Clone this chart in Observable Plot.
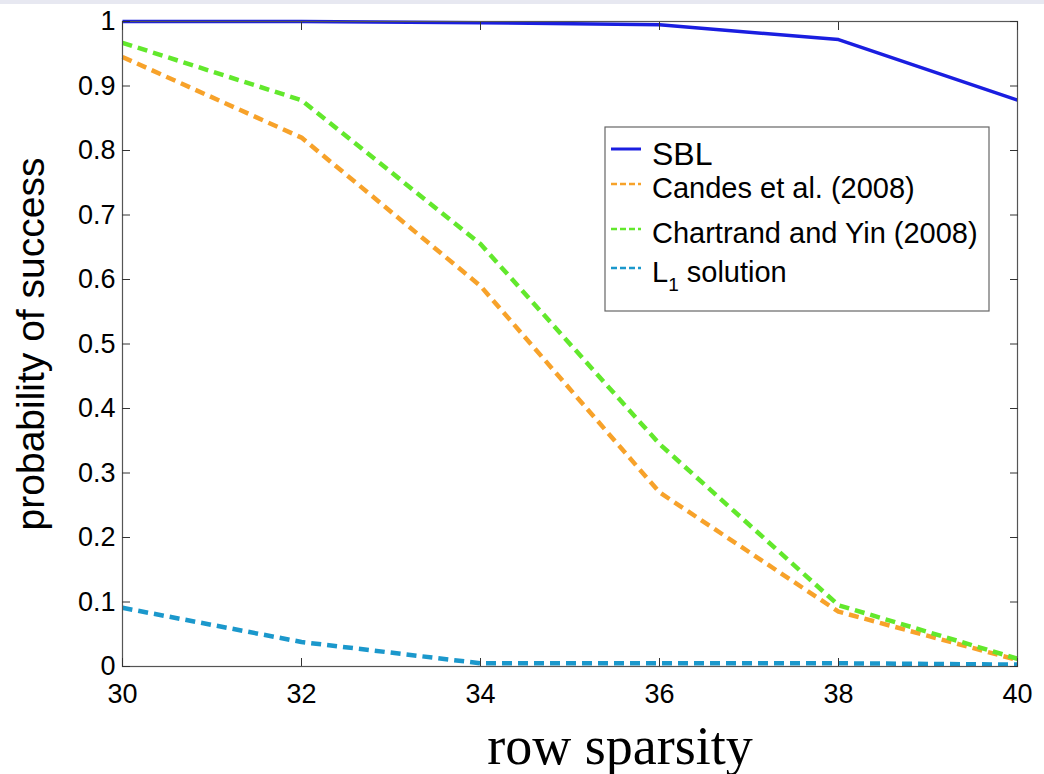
<!DOCTYPE html>
<html>
<head>
<meta charset="utf-8">
<script src="https://cdn.jsdelivr.net/npm/d3@7"></script>
<script src="https://cdn.jsdelivr.net/npm/@observablehq/plot@0.6"></script>
<style>
  html, body { margin: 0; padding: 0; background: #fff; }
  #band { position: absolute; left: 0; top: 0; width: 1044px; height: 4px; background: #e7e8f1; }
  #chart { position: absolute; left: 0; top: 0; }
  svg { overflow: visible; }
</style>
</head>
<body>
<div id="chart"></div>
<div id="band"></div>
<script>
// ---- data ----
const sparsity = [30, 32, 34, 36, 38, 40];
const sbl       = [1.000, 1.000, 0.998, 0.995, 0.972, 0.878];
const candes    = [0.945, 0.820, 0.590, 0.270, 0.085, 0.010];
const chartrand = [0.967, 0.878, 0.655, 0.345, 0.095, 0.012];
const l1        = [0.091, 0.038, 0.005, 0.005, 0.005, 0.003];

const seriesNames  = ["SBL", "Candes et al. (2008)", "Chartrand and Yin (2008)", "L1 solution"];
const seriesColors = ["#1a1ee0", "#f7a22a", "#62e82c", "#1b98cc"];
const seriesValues = [sbl, candes, chartrand, l1];
const seriesDashed = [false, true, true, true];

const xTicks = [30, 32, 34, 36, 38, 40];
const yTicks = [0, 0.1, 0.2, 0.3, 0.4, 0.5, 0.6, 0.7, 0.8, 0.9, 1];
const yTickLabels = ["0", "0.1", "0.2", "0.3", "0.4", "0.5", "0.6", "0.7", "0.8", "0.9", "1"];

const xLabel = "row sparsity";
const yLabel = "probability of success";

const rows = seriesNames.map((name, i) =>
  sparsity.map((x, j) => ({series: name, x, y: seriesValues[i][j]}))
);

const sans = "'Liberation Sans', Arial, Helvetica, sans-serif";
const serif = "'Liberation Serif', 'Times New Roman', serif";

const lineMarks = [0, 1, 2, 3].map(i =>
  Plot.line(rows[i], {
    x: "x", y: "y",
    stroke: seriesColors[i],
    strokeWidth: seriesDashed[i] ? 4.5 : 3.5,
    strokeDasharray: seriesDashed[i] ? "10,6" : null,
    strokeLinecap: "butt"
  })
);

const chart = Plot.plot({
  width: 1044,
  height: 774,
  marginLeft: 122,
  marginRight: 27,
  marginTop: 21,
  marginBottom: 108,
  style: {fontFamily: sans, color: "#000", background: "transparent"},
  x: {domain: [30, 40]},
  y: {domain: [0, 1]},
  marks: [
    ...lineMarks,
    Plot.frame({stroke: "#555", strokeWidth: 1.2}),
    // inward ticks on all four sides
    Plot.axisX({ticks: xTicks, anchor: "bottom", tickSize: -8, fill: "none", stroke: "#333", label: null}),
    Plot.axisX({ticks: xTicks, anchor: "top", tickSize: -8, fill: "none", stroke: "#333", label: null}),
    Plot.axisY({ticks: yTicks, anchor: "left", tickSize: -8, fill: "none", stroke: "#333", label: null}),
    Plot.axisY({ticks: yTicks, anchor: "right", tickSize: -8, fill: "none", stroke: "#333", label: null}),
    // tick labels
    Plot.axisX({ticks: xTicks, anchor: "bottom", tickSize: 0, tickPadding: 17, fontSize: 27,
      tickFormat: d => String(d), label: null, fill: "#000"}),
    Plot.axisY({ticks: yTicks, anchor: "left", tickSize: 0, tickPadding: 7, fontSize: 27,
      tickFormat: d => yTickLabels[yTicks.indexOf(d)], label: null, fill: "#000"}),
    // axis titles
    Plot.text([yLabel], {frameAnchor: "left", dx: -79, rotate: -90, fontSize: 39,
      lineAnchor: "bottom", textAnchor: "middle", fill: "#000", fontFamily: sans}),
    Plot.text([xLabel], {frameAnchor: "bottom", dx: 50, dy: 97, fontSize: 54,
      lineAnchor: "bottom", textAnchor: "middle", fill: "#000", fontFamily: serif})
  ]
});

document.getElementById("chart").appendChild(chart);

// ---- legend box (inside the axes, as in the original) ----
const svg = d3.select(chart);
const lg = svg.append("g").attr("class", "legend").attr("text-anchor", "start");
lg.append("rect")
  .attr("x", 605).attr("y", 127).attr("width", 384).attr("height", 184)
  .attr("fill", "#fff").attr("stroke", "#666").attr("stroke-width", 1.2);

const legendRows = [
  {baseline: 165, lineY: 149, size: 32},
  {baseline: 198, lineY: 184, size: 29},
  {baseline: 243, lineY: 229, size: 29},
  {baseline: 282, lineY: 268, size: 29}
];
seriesNames.forEach((name, i) => {
  const r = legendRows[i];
  lg.append("line")
    .attr("x1", 611).attr("x2", 641).attr("y1", r.lineY).attr("y2", r.lineY)
    .attr("stroke", seriesColors[i]).attr("stroke-width", seriesDashed[i] ? 2.5 : 3)
    .attr("stroke-dasharray", seriesDashed[i] ? "6,3" : null);
  const t = lg.append("text")
    .attr("x", 652).attr("y", r.baseline)
    .attr("text-anchor", "start")
    .attr("font-family", sans).attr("font-size", r.size).attr("fill", "#000");
  if (name === "L1 solution") {
    t.append("tspan").text("L");
    t.append("tspan").attr("font-size", 19).attr("dy", 9).text("1");
    t.append("tspan").attr("dy", -9).text(" solution");
  } else {
    t.text(name);
  }
});
</script>
</body>
</html>
